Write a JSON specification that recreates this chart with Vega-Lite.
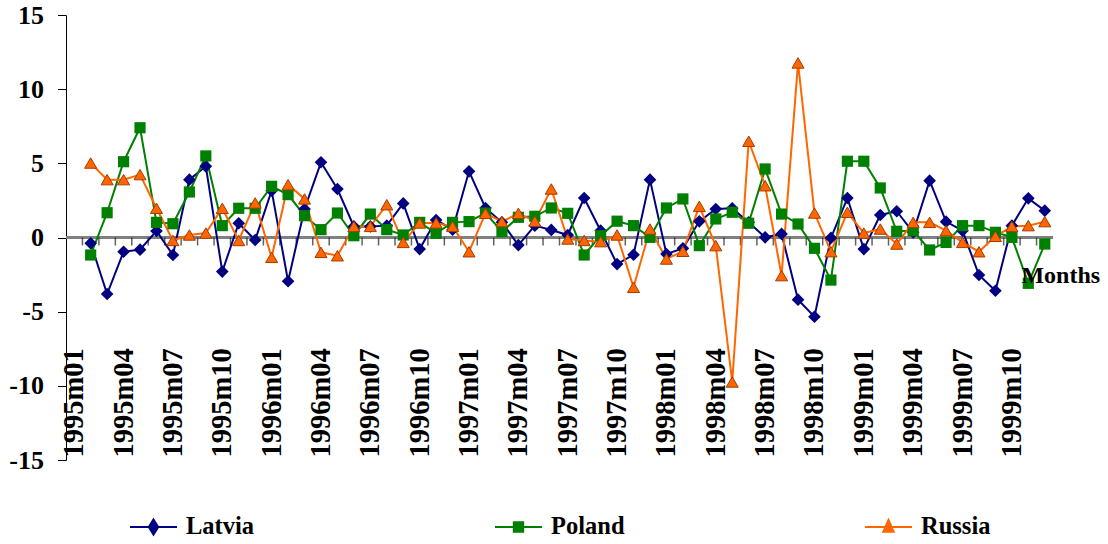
{
  "$schema": "https://vega.github.io/schema/vega-lite/v6.json",
  "width": 987,
  "height": 445,
  "autosize": {"type": "none"},
  "padding": {"left": 66, "top": 15, "right": 55, "bottom": 84},
  "background": "white",
  "config": {
    "font": "Liberation Serif",
    "view": {"stroke": null},
    "axis": {"labelFont": "Liberation Serif", "labelFontWeight": "bold"},
    "legend": {"labelFont": "Liberation Serif", "labelFontWeight": "bold"}
  },
  "data": {"values": [
    {"month":"1995m02","country":"Latvia","value":-0.39},{"month":"1995m03","country":"Latvia","value":-3.81},{"month":"1995m04","country":"Latvia","value":-0.96},{"month":"1995m05","country":"Latvia","value":-0.82},{"month":"1995m06","country":"Latvia","value":0.44},{"month":"1995m07","country":"Latvia","value":-1.18},{"month":"1995m08","country":"Latvia","value":3.9},{"month":"1995m09","country":"Latvia","value":4.8},{"month":"1995m10","country":"Latvia","value":-2.3},{"month":"1995m11","country":"Latvia","value":0.96},{"month":"1995m12","country":"Latvia","value":-0.17},
    {"month":"1996m01","country":"Latvia","value":3.16},{"month":"1996m02","country":"Latvia","value":-2.95},{"month":"1996m03","country":"Latvia","value":1.92},{"month":"1996m04","country":"Latvia","value":5.07},{"month":"1996m05","country":"Latvia","value":3.27},{"month":"1996m06","country":"Latvia","value":0.75},{"month":"1996m07","country":"Latvia","value":0.75},{"month":"1996m08","country":"Latvia","value":0.8},{"month":"1996m09","country":"Latvia","value":2.3},{"month":"1996m10","country":"Latvia","value":-0.78},{"month":"1996m11","country":"Latvia","value":1.18},{"month":"1996m12","country":"Latvia","value":0.53},
    {"month":"1997m01","country":"Latvia","value":4.46},{"month":"1997m02","country":"Latvia","value":1.99},{"month":"1997m03","country":"Latvia","value":1.02},{"month":"1997m04","country":"Latvia","value":-0.51},{"month":"1997m05","country":"Latvia","value":0.8},{"month":"1997m06","country":"Latvia","value":0.51},{"month":"1997m07","country":"Latvia","value":0.17},{"month":"1997m08","country":"Latvia","value":2.66},{"month":"1997m09","country":"Latvia","value":0.46},{"month":"1997m10","country":"Latvia","value":-1.79},{"month":"1997m11","country":"Latvia","value":-1.16},{"month":"1997m12","country":"Latvia","value":3.9},
    {"month":"1998m01","country":"Latvia","value":-1.11},{"month":"1998m02","country":"Latvia","value":-0.73},{"month":"1998m03","country":"Latvia","value":1.09},{"month":"1998m04","country":"Latvia","value":1.92},{"month":"1998m05","country":"Latvia","value":1.97},{"month":"1998m06","country":"Latvia","value":1.02},{"month":"1998m07","country":"Latvia","value":0.01},{"month":"1998m08","country":"Latvia","value":0.24},{"month":"1998m09","country":"Latvia","value":-4.19},{"month":"1998m10","country":"Latvia","value":-5.34},{"month":"1998m11","country":"Latvia","value":-0.03},{"month":"1998m12","country":"Latvia","value":2.66},
    {"month":"1999m01","country":"Latvia","value":-0.78},{"month":"1999m02","country":"Latvia","value":1.52},{"month":"1999m03","country":"Latvia","value":1.77},{"month":"1999m04","country":"Latvia","value":0.35},{"month":"1999m05","country":"Latvia","value":3.83},{"month":"1999m06","country":"Latvia","value":1.07},{"month":"1999m07","country":"Latvia","value":0.46},{"month":"1999m08","country":"Latvia","value":-2.53},{"month":"1999m09","country":"Latvia","value":-3.59},{"month":"1999m10","country":"Latvia","value":0.8},{"month":"1999m11","country":"Latvia","value":2.64},{"month":"1999m12","country":"Latvia","value":1.81},
    {"month":"1995m02","country":"Poland","value":-1.18},{"month":"1995m03","country":"Poland","value":1.67},{"month":"1995m04","country":"Poland","value":5.11},{"month":"1995m05","country":"Poland","value":7.4},{"month":"1995m06","country":"Poland","value":1.02},{"month":"1995m07","country":"Poland","value":0.93},{"month":"1995m08","country":"Poland","value":3.07},{"month":"1995m09","country":"Poland","value":5.5},{"month":"1995m10","country":"Poland","value":0.8},{"month":"1995m11","country":"Poland","value":1.97},{"month":"1995m12","country":"Poland","value":1.97},
    {"month":"1996m01","country":"Poland","value":3.45},{"month":"1996m02","country":"Poland","value":2.89},{"month":"1996m03","country":"Poland","value":1.47},{"month":"1996m04","country":"Poland","value":0.53},{"month":"1996m05","country":"Poland","value":1.65},{"month":"1996m06","country":"Poland","value":0.12},{"month":"1996m07","country":"Poland","value":1.58},{"month":"1996m08","country":"Poland","value":0.53},{"month":"1996m09","country":"Poland","value":0.17},{"month":"1996m10","country":"Poland","value":1.02},{"month":"1996m11","country":"Poland","value":0.28},{"month":"1996m12","country":"Poland","value":1.02},
    {"month":"1997m01","country":"Poland","value":1.07},{"month":"1997m02","country":"Poland","value":1.65},{"month":"1997m03","country":"Poland","value":0.39},{"month":"1997m04","country":"Poland","value":1.36},{"month":"1997m05","country":"Poland","value":1.43},{"month":"1997m06","country":"Poland","value":1.99},{"month":"1997m07","country":"Poland","value":1.63},{"month":"1997m08","country":"Poland","value":-1.18},{"month":"1997m09","country":"Poland","value":0.12},{"month":"1997m10","country":"Poland","value":1.1},{"month":"1997m11","country":"Poland","value":0.8},{"month":"1997m12","country":"Poland","value":0.01},
    {"month":"1998m01","country":"Poland","value":1.99},{"month":"1998m02","country":"Poland","value":2.6},{"month":"1998m03","country":"Poland","value":-0.55},{"month":"1998m04","country":"Poland","value":1.25},{"month":"1998m05","country":"Poland","value":1.7},{"month":"1998m06","country":"Poland","value":0.96},{"month":"1998m07","country":"Poland","value":4.62},{"month":"1998m08","country":"Poland","value":1.58},{"month":"1998m09","country":"Poland","value":0.91},{"month":"1998m10","country":"Poland","value":-0.73},{"month":"1998m11","country":"Poland","value":-2.87},{"month":"1998m12","country":"Poland","value":5.14},
    {"month":"1999m01","country":"Poland","value":5.14},{"month":"1999m02","country":"Poland","value":3.34},{"month":"1999m03","country":"Poland","value":0.42},{"month":"1999m04","country":"Poland","value":0.46},{"month":"1999m05","country":"Poland","value":-0.84},{"month":"1999m06","country":"Poland","value":-0.33},{"month":"1999m07","country":"Poland","value":0.8},{"month":"1999m08","country":"Poland","value":0.8},{"month":"1999m09","country":"Poland","value":0.35},{"month":"1999m10","country":"Poland","value":0.01},{"month":"1999m11","country":"Poland","value":-3.09},{"month":"1999m12","country":"Poland","value":-0.44},
    {"month":"1995m02","country":"Russia","value":5.02},{"month":"1995m03","country":"Russia","value":3.9},{"month":"1995m04","country":"Russia","value":3.9},{"month":"1995m05","country":"Russia","value":4.24},{"month":"1995m06","country":"Russia","value":1.97},{"month":"1995m07","country":"Russia","value":-0.2},{"month":"1995m08","country":"Russia","value":0.17},{"month":"1995m09","country":"Russia","value":0.3},{"month":"1995m10","country":"Russia","value":1.97},{"month":"1995m11","country":"Russia","value":-0.2},{"month":"1995m12","country":"Russia","value":2.33},
    {"month":"1996m01","country":"Russia","value":-1.34},{"month":"1996m02","country":"Russia","value":3.56},{"month":"1996m03","country":"Russia","value":2.6},{"month":"1996m04","country":"Russia","value":-1.0},{"month":"1996m05","country":"Russia","value":-1.23},{"month":"1996m06","country":"Russia","value":0.75},{"month":"1996m07","country":"Russia","value":0.75},{"month":"1996m08","country":"Russia","value":2.21},{"month":"1996m09","country":"Russia","value":-0.33},{"month":"1996m10","country":"Russia","value":0.98},{"month":"1996m11","country":"Russia","value":0.98},{"month":"1996m12","country":"Russia","value":0.75},
    {"month":"1997m01","country":"Russia","value":-0.96},{"month":"1997m02","country":"Russia","value":1.63},{"month":"1997m03","country":"Russia","value":1.07},{"month":"1997m04","country":"Russia","value":1.63},{"month":"1997m05","country":"Russia","value":1.1},{"month":"1997m06","country":"Russia","value":3.27},{"month":"1997m07","country":"Russia","value":-0.1},{"month":"1997m08","country":"Russia","value":-0.2},{"month":"1997m09","country":"Russia","value":-0.28},{"month":"1997m10","country":"Russia","value":0.17},{"month":"1997m11","country":"Russia","value":-3.36},{"month":"1997m12","country":"Russia","value":0.57},
    {"month":"1998m01","country":"Russia","value":-1.45},{"month":"1998m02","country":"Russia","value":-0.93},{"month":"1998m03","country":"Russia","value":2.1},{"month":"1998m04","country":"Russia","value":-0.55},{"month":"1998m05","country":"Russia","value":-9.74},{"month":"1998m06","country":"Russia","value":6.49},{"month":"1998m07","country":"Russia","value":3.49},{"month":"1998m08","country":"Russia","value":-2.57},{"month":"1998m09","country":"Russia","value":11.77},{"month":"1998m10","country":"Russia","value":1.65},{"month":"1998m11","country":"Russia","value":-0.96},{"month":"1998m12","country":"Russia","value":1.7},
    {"month":"1999m01","country":"Russia","value":0.3},{"month":"1999m02","country":"Russia","value":0.57},{"month":"1999m03","country":"Russia","value":-0.44},{"month":"1999m04","country":"Russia","value":1.02},{"month":"1999m05","country":"Russia","value":1.02},{"month":"1999m06","country":"Russia","value":0.46},{"month":"1999m07","country":"Russia","value":-0.33},{"month":"1999m08","country":"Russia","value":-0.96},{"month":"1999m09","country":"Russia","value":0.08},{"month":"1999m10","country":"Russia","value":0.75},{"month":"1999m11","country":"Russia","value":0.8},{"month":"1999m12","country":"Russia","value":1.07}
  ]},
  "layer": [
    {
      "mark": {"type": "rule", "color": "#808080", "strokeWidth": 2},
      "encoding": {"y": {"datum": 0}}
    },
    {
      "transform": [{"filter": "datum.country == 'Latvia'"}],
      "mark": {"type": "tick", "orient": "vertical", "color": "#202020", "size": 8, "thickness": 1.5, "yOffset": 4},
      "encoding": {
        "x": {"field": "month", "type": "ordinal", "bandPosition": 0},
        "y": {"datum": 0}
      }
    },
    {
      "mark": {"type": "line", "strokeWidth": 2},
      "encoding": {
        "x": {
          "field": "month", "type": "ordinal",
          "scale": {"type": "band", "paddingInner": 0, "paddingOuter": 0, "domain": ["1995m01","1995m02","1995m03","1995m04","1995m05","1995m06","1995m07","1995m08","1995m09","1995m10","1995m11","1995m12","1996m01","1996m02","1996m03","1996m04","1996m05","1996m06","1996m07","1996m08","1996m09","1996m10","1996m11","1996m12","1997m01","1997m02","1997m03","1997m04","1997m05","1997m06","1997m07","1997m08","1997m09","1997m10","1997m11","1997m12","1998m01","1998m02","1998m03","1998m04","1998m05","1998m06","1998m07","1998m08","1998m09","1998m10","1998m11","1998m12","1999m01","1999m02","1999m03","1999m04","1999m05","1999m06","1999m07","1999m08","1999m09","1999m10","1999m11","1999m12"]},
          "axis": {
            "orient": "bottom", "domain": false, "ticks": false,
            "labelAngle": -90, "labelAlign": "left", "labelBaseline": "middle", "labelPadding": -3,
            "labelExpr": "indexof(['01','04','07','10'], slice(datum.value, 5)) >= 0 ? datum.value : ''",
            "labelFont": "Liberation Serif", "labelFontWeight": "bold", "labelFontSize": 28.5, "labelColor": "black",
            "labelOverlap": false, "labelBound": false, "labelFlush": false,
            "title": null
          }
        },
        "y": {
          "field": "value", "type": "quantitative",
          "scale": {"domain": [-15, 15], "nice": false, "zero": false},
          "axis": {
            "values": [-15, -10, -5, 0, 5, 10, 15], "title": null, "grid": false,
            "labelExpr": "datum.value < 0 ? '-' + abs(datum.value) : '' + datum.value",
            "domainColor": "black", "domainWidth": 1, "tickColor": "black", "tickWidth": 1, "tickSize": 8.5,
            "labelPadding": 14, "labelFont": "Liberation Serif", "labelFontWeight": "bold", "labelFontSize": 26, "labelColor": "black"
          }
        },
        "color": {
          "field": "country", "type": "nominal",
          "scale": {"domain": ["Latvia", "Poland", "Russia"], "range": ["#000080", "#008000", "#FF6600"]},
          "legend": {
            "title": null, "orient": "none", "legendX": 63, "legendY": 487, "direction": "horizontal",
            "padding": 0, "columnPadding": 236, "labelOffset": 8, "symbolSize": 2209, "symbolStrokeWidth": 2,
            "labelFont": "Liberation Serif", "labelFontWeight": "bold", "labelFontSize": 24.5, "labelColor": "black",
            "encode": {
              "labels": {"update": {"font": {"value": "Liberation Serif"}, "fontWeight": {"value": "bold"}}},
              "symbols": {"update": {
                "shape": {"signal": "datum.value == 'Latvia' ? 'M-1,0H1M0,-0.32L0.2,0L0,0.32L-0.2,0Z' : datum.value == 'Poland' ? 'M-1,0H1M-0.2,-0.2H0.2V0.2H-0.2Z' : 'M-1,0H1M0,-0.3L0.22,0.2H-0.22Z'"},
                "fill": {"signal": "datum.value == 'Latvia' ? '#000080' : datum.value == 'Poland' ? '#008000' : '#FF6600'"},
                "stroke": {"signal": "datum.value == 'Latvia' ? '#000080' : datum.value == 'Poland' ? '#008000' : '#FF6600'"},
                "strokeWidth": {"value": 2},
                "opacity": {"value": 1}
              }}
            }
          }
        }
      }
    },
    {
      "transform": [{"filter": "datum.country == 'Latvia'"}],
      "mark": {"type": "point", "shape": "diamond", "filled": true, "opacity": 1, "size": 160, "color": "#000080"},
      "encoding": {
        "x": {"field": "month", "type": "ordinal"},
        "y": {"field": "value", "type": "quantitative"}
      }
    },
    {
      "transform": [{"filter": "datum.country == 'Poland'"}],
      "mark": {"type": "point", "shape": "square", "filled": true, "opacity": 1, "size": 125, "color": "#008000"},
      "encoding": {
        "x": {"field": "month", "type": "ordinal"},
        "y": {"field": "value", "type": "quantitative"}
      }
    },
    {
      "transform": [{"filter": "datum.country == 'Russia'"}],
      "mark": {"type": "point", "shape": "triangle-up", "filled": true, "opacity": 1, "size": 145, "fill": "#FF6600", "stroke": "#A33C00", "strokeWidth": 1},
      "encoding": {
        "x": {"field": "month", "type": "ordinal"},
        "y": {"field": "value", "type": "quantitative"}
      }
    },
    {
      "data": {"values": [{"label": "Months"}]},
      "mark": {"type": "text", "font": "Liberation Serif", "fontWeight": "bold", "fontSize": 24, "align": "center", "baseline": "alphabetic", "dx": 16, "color": "black"},
      "encoding": {
        "text": {"field": "label"},
        "x": {"datum": "1999m12"},
        "y": {"datum": -3.1}
      }
    }
  ]
}
